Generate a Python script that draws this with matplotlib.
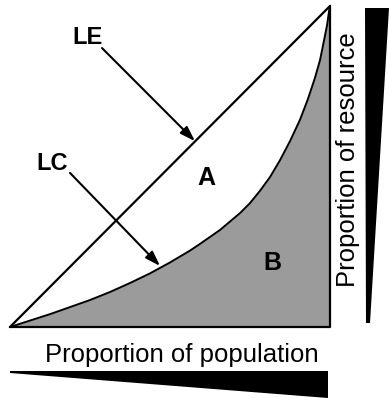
import numpy as np
import matplotlib.pyplot as plt
from matplotlib.patches import Polygon

# Lorenz curve (share of population vs share of resource)
pop = [0, 0.0625, 0.125, 0.1875, 0.25, 0.3125, 0.375, 0.4375, 0.5, 0.5625,
       0.594, 0.656, 0.719, 0.75, 0.781, 0.8125, 0.844, 0.875, 0.906, 0.931,
       0.953, 0.969, 0.981, 0.991, 0.997, 1.0]
res = [0, 0.020, 0.040, 0.062, 0.084, 0.109, 0.137, 0.167, 0.201, 0.238,
       0.259, 0.302, 0.355, 0.386, 0.424, 0.467, 0.520, 0.579, 0.645, 0.710,
       0.776, 0.832, 0.891, 0.941, 0.984, 1.0]
equality = [0, 1]

# labels: (text, x, y)
region_labels = [("A", 0.6125, 0.464), ("B", 0.819, 0.199)]
# (text, text x, text y, arrow tail x, tail y, head x, head y)
line_labels = [("LE", 0.241, 0.903, 0.2875, 0.869, 0.578, 0.579),
               ("LC", 0.131, 0.508, 0.1875, 0.480, 0.469, 0.190)]
xlabel = "Proportion of population"
ylabel = "Proportion of resource"

plt.rcParams['font.family'] = ['Liberation Sans', 'DejaVu Sans']

W, H = 389, 398
fig = plt.figure(figsize=(W / 100, H / 100), dpi=100)

# overlay in pixel coords for the wedges and axis captions
bg = fig.add_axes([0, 0, 1, 1])
bg.set_xlim(0, W)
bg.set_ylim(H, 0)
bg.axis("off")

ax = fig.add_axes([10 / W, (H - 327) / H, 320 / W, 321 / H])
ax.set_xlim(0, 1)
ax.set_ylim(0, 1)
ax.axis("off")

# shaded area under the Lorenz curve (B)
xs = np.array(pop)
ys = np.array(res)
ax.fill_between(xs, 0, ys, color="#9b9b9b", lw=0)
ax.plot(xs, ys, color="black", lw=1.4, solid_joinstyle="round")
ax.plot(equality, equality, color="black", lw=1.6)
ax.plot([0, 1, 1], [0, 0, 1], color="black", lw=1.6, clip_on=False)

for txt, x, y in region_labels:
    ax.text(x, y, txt, ha="center", va="center", fontsize=18, fontweight="bold")

for txt, tx, ty, ax0, ay0, hx, hy in line_labels:
    ax.text(tx, ty, txt, ha="center", va="center", fontsize=17, fontweight="bold")
    ax.annotate("", xy=(hx, hy), xytext=(ax0, ay0),
                arrowprops=dict(arrowstyle="-|>,head_length=0.9,head_width=0.3",
                                color="black", lw=1.5, shrinkA=0, shrinkB=0))

# wedges showing increase along each axis
bg.add_patch(Polygon([(10, 371), (328, 371), (328, 398), (10, 373)],
                     closed=True, color="black", lw=0))
bg.add_patch(Polygon([(365, 8), (389, 8), (370, 323), (366, 323)],
                     closed=True, color="black", lw=0))

bg.text(182, 355, xlabel, ha="center", va="center", fontsize=18.5)
bg.text(348, 160, ylabel, ha="center", va="center", fontsize=18.5, rotation=90)

fig.savefig("out.png", dpi=100)
